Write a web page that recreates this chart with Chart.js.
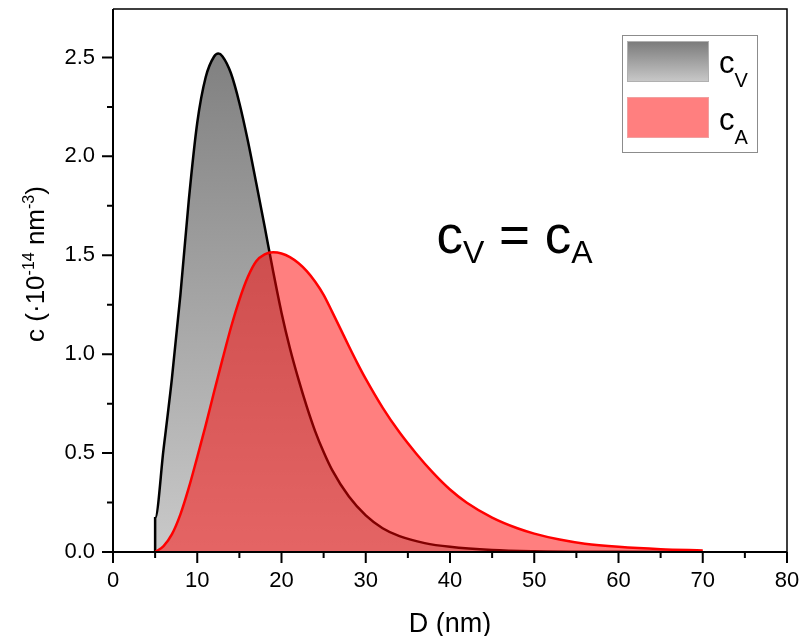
<!DOCTYPE html>
<html>
<head>
<meta charset="utf-8">
<script src="https://cdn.jsdelivr.net/npm/chart.js@4"></script>
<style>
  html, body { margin: 0; padding: 0; background: #fff; }
</style>
</head>
<body>
<canvas id="chart" width="801" height="636"></canvas>
<script>
// c_V distribution (volume weighted)
const dV = [5, 5, 6, 7, 8, 9, 10, 11, 12, 12.5, 13, 14, 15, 16, 17, 18, 19, 20, 21, 22, 23, 24, 25, 26, 28, 30, 32, 34, 37, 40, 45, 50, 60, 70];
const cV = [0, 0.17, 0.52, 0.88, 1.30, 1.78, 2.17, 2.40, 2.505, 2.52, 2.505, 2.42, 2.27, 2.08, 1.865, 1.645, 1.42, 1.21, 1.03, 0.875, 0.735, 0.61, 0.505, 0.415, 0.28, 0.185, 0.12, 0.08, 0.045, 0.026, 0.01, 0.004, 0.001, 0];

// c_A distribution (area weighted)
const dA = [5, 6, 7, 8, 9, 10, 11, 12, 13, 14, 15, 16, 17, 18, 19, 20, 21, 22, 23, 24, 25, 26, 27, 28, 29, 30, 32, 34, 36, 38, 40, 42, 45, 48, 50, 53, 56, 60, 65, 70];
const cA = [0, 0.03, 0.09, 0.19, 0.325, 0.48, 0.64, 0.81, 0.975, 1.135, 1.275, 1.39, 1.47, 1.505, 1.515, 1.509, 1.491, 1.461, 1.42, 1.366, 1.30, 1.215, 1.128, 1.04, 0.955, 0.875, 0.73, 0.605, 0.497, 0.40, 0.316, 0.249, 0.174, 0.12, 0.093, 0.063, 0.042, 0.026, 0.014, 0.008];

const xTicks = [0, 10, 20, 30, 40, 50, 60, 70, 80];
const yTicks = [0, 0.5, 1.0, 1.5, 2.0, 2.5];
const seriesNames = ['c_{V}', 'c_{A}'];
const xTitle = 'D (nm)';
const yTitle = 'c (·10^{-14} nm^{-3})';
const note = 'c_{V} = c_{A}';

const FONT = '"Liberation Sans", Arial, sans-serif';

// draws text with _{sub} and ^{sup} parts
const richText = (ctx, src, x, y, size, o) => {
  const parts = [];
  const re = /([_^])\{([^}]*)\}|([^_^]+)/g;
  let m;
  while ((m = re.exec(src))) {
    if (m[3]) parts.push({ t: m[3], s: size, dy: 0 });
    else parts.push({ t: m[2], s: o.small, dy: m[1] === '^' ? -o.sup : o.sub });
  }
  let w = 0;
  parts.forEach(p => { ctx.font = `${p.s}px ${FONT}`; p.w = ctx.measureText(p.t).width; w += p.w; });
  let cx = o.align === 'center' ? x - w / 2 : x;
  ctx.textAlign = 'left';
  ctx.textBaseline = 'alphabetic';
  parts.forEach(p => { ctx.font = `${p.s}px ${FONT}`; ctx.fillText(p.t, cx, y + p.dy); cx += p.w; });
};

const grayFill = (chart, top, bottom) => {
  const g = chart.ctx.createLinearGradient(0, top, 0, bottom);
  g.addColorStop(0, '#7a7a7a');
  g.addColorStop(1, '#c9c9c9');
  return g;
};

// frame, tick marks, legend, titles and the note
const decor = {
  id: 'decor',
  afterDraw(chart) {
    const { ctx, chartArea: a, scales: { x, y } } = chart;
    ctx.save();
    ctx.strokeStyle = '#000';
    ctx.fillStyle = '#000';

    ctx.lineWidth = 1.5;
    ctx.beginPath();
    ctx.moveTo(a.left, a.top); ctx.lineTo(a.right, a.top); ctx.lineTo(a.right, a.bottom);
    ctx.stroke();
    ctx.lineWidth = 2;
    ctx.beginPath();
    ctx.moveTo(a.left, a.top); ctx.lineTo(a.left, a.bottom); ctx.lineTo(a.right, a.bottom);
    ctx.stroke();

    const xMinor = xTicks.slice(1).map((v, i) => (v + xTicks[i]) / 2);
    const yMinor = yTicks.map(v => v + 0.25).filter(v => v <= y.max);
    ctx.beginPath();
    xTicks.forEach(v => { const p = x.getPixelForValue(v); ctx.moveTo(p, a.bottom); ctx.lineTo(p, a.bottom + 11); });
    xMinor.forEach(v => { const p = x.getPixelForValue(v); ctx.moveTo(p, a.bottom); ctx.lineTo(p, a.bottom + 6); });
    yTicks.forEach(v => { const p = y.getPixelForValue(v); ctx.moveTo(a.left - 11, p); ctx.lineTo(a.left, p); });
    yMinor.forEach(v => { const p = y.getPixelForValue(v); ctx.moveTo(a.left - 6, p); ctx.lineTo(a.left, p); });
    ctx.stroke();

    // axis titles
    richText(ctx, xTitle, (a.left + a.right) / 2, 632, 27, { align: 'center' });
    ctx.save();
    ctx.translate(44, 264);
    ctx.rotate(-Math.PI / 2);
    richText(ctx, yTitle, 0, 0, 26, { align: 'center', small: 16, sup: 10, sub: 0 });
    ctx.restore();

    // legend
    const lx = a.right - 165, ly = a.top + 26;
    ctx.fillStyle = '#fff';
    ctx.fillRect(lx, ly, 136, 118);
    ctx.lineWidth = 1;
    ctx.strokeStyle = '#8c8c8c';
    ctx.strokeRect(lx + 0.5, ly + 0.5, 135, 117);
    ctx.fillStyle = grayFill(chart, ly + 6, ly + 47);
    ctx.fillRect(lx + 5, ly + 6, 82, 41);
    ctx.fillStyle = 'rgba(255,0,0,0.5)';
    ctx.fillRect(lx + 5, ly + 62, 82, 41);
    ctx.strokeStyle = '#b0b0b0';
    ctx.strokeRect(lx + 5.5, ly + 6.5, 81, 40);
    ctx.strokeStyle = '#f0a0a0';
    ctx.strokeRect(lx + 5.5, ly + 62.5, 81, 40);
    ctx.fillStyle = '#000';
    seriesNames.forEach((s, i) => {
      richText(ctx, s, lx + 97, ly + 38 + i * 57, 31, { small: 20, sub: 14, sup: 0 });
    });

    // note in the plot
    richText(ctx, note, x.getPixelForValue(38.4), y.getPixelForValue(1.51), 53, { small: 32, sub: 10, sup: 0 });
    ctx.restore();
  }
};

new Chart(document.getElementById('chart').getContext('2d'), {
  type: 'line',
  data: {
    datasets: [
      {
        label: 'cA',
        data: dA.map((d, i) => ({ x: d, y: cA[i] })),
        borderColor: '#ff0000',
        backgroundColor: 'rgba(255,0,0,0.5)',
        borderWidth: 2.5,
        fill: 'origin',
        pointRadius: 0,
        cubicInterpolationMode: 'monotone',
        order: 1
      },
      {
        label: 'cV',
        data: dV.map((d, i) => ({ x: d, y: cV[i] })),
        borderColor: '#000',
        backgroundColor: (c) => {
          const a = c.chart.chartArea;
          return a ? grayFill(c.chart, a.top, a.bottom) : '#aaa';
        },
        borderWidth: 2.5,
        fill: 'origin',
        pointRadius: 0,
        cubicInterpolationMode: 'monotone',
        order: 2
      }
    ]
  },
  options: {
    responsive: false,
    animation: false,
    layout: { padding: { top: 9, right: 14, left: 0, bottom: 0 } },
    scales: {
      x: {
        type: 'linear',
        min: 0,
        max: 80,
        afterFit: s => { s.height = 84; s.paddingLeft = 0; s.paddingRight = 0; },
        afterBuildTicks: s => { s.ticks = xTicks.map(v => ({ value: v })); },
        grid: { display: false, drawTicks: false },
        border: { display: false },
        ticks: { color: '#000', padding: 16, maxRotation: 0, font: { family: FONT, size: 22 } }
      },
      y: {
        min: 0,
        max: 2.745,
        afterFit: s => { s.width = 113; s.paddingTop = 0; s.paddingBottom = 0; },
        afterBuildTicks: s => { s.ticks = yTicks.map(v => ({ value: v })); },
        grid: { display: false, drawTicks: false },
        border: { display: false },
        ticks: { color: '#000', padding: 18, font: { family: FONT, size: 22 }, callback: v => v.toFixed(1) }
      }
    },
    plugins: {
      legend: { display: false },
      tooltip: { enabled: false }
    }
  },
  plugins: [decor]
});
</script>
</body>
</html>
